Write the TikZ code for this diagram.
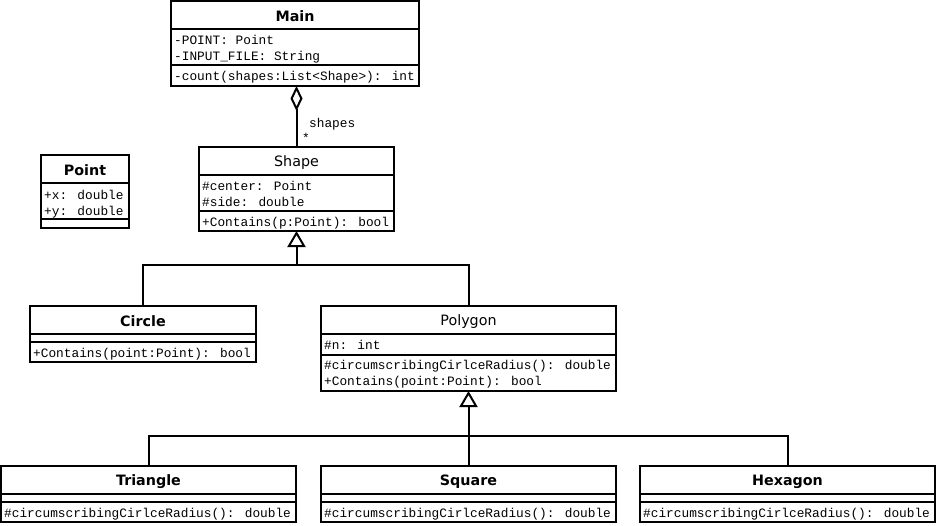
\documentclass[tikz,border=0pt]{standalone}
\usepackage{fontspec}
\usetikzlibrary{arrows.meta}
\newfontfamily\monof{Liberation Mono}
\newfontfamily\headf{DejaVu Sans}

\tikzset{
  x=1pt, y=-1pt,
  classbox/.style={draw, line width=2pt, inner sep=0pt, outer sep=0pt, fill=white},
  divline/.style={line width=2pt},
  member/.style={anchor=mid west, inner sep=0pt, yshift=-2pt, font=\monof\fontsize{12.8}{14}\selectfont},
  boldhead/.style={inner sep=0pt, yshift=-1.5pt, font=\headf\bfseries\fontsize{14.3}{16}\selectfont},
  plainhead/.style={inner sep=0pt, yshift=-1.5pt, font=\headf\fontsize{14.3}{16}\selectfont},
  conn/.style={line width=2pt},
  inherit/.style={conn, -{Triangle[open, width=18pt, length=16pt]}},
  aggregate/.style={conn, -{Diamond[open, width=12pt, length=25pt]}},
}

% class box: name, left, top, right, bottom, first divider, second divider
\newcommand{\classframe}[7]{%
  \node[classbox, anchor=north west, minimum width={#4-#2}, minimum height={#5-#3}] (#1) at (#2,#3) {};
  \draw[divline] (#2,#6) -- (#4,#6);
  \draw[divline] (#2,#7) -- (#4,#7);
}

\begin{document}
\begin{tikzpicture}
\useasboundingbox (0,0) rectangle (937,525);

% Main
\classframe{main}{171}{1}{419}{86}{29}{65}
\node[boldhead] (mainT) at (295,15) {Main};
\node[member] (mainA1) at (174,40) {-POINT: Point};
\node[member] (mainA2) at (174,56) {-INPUT\_FILE: String};
\node[member] (mainM1) at (174,76) {-count(shapes:List<Shape>): int};

% Point
\classframe{point}{41}{155}{129}{228}{183}{219}
\node[boldhead] (pointT) at (85,169) {Point};
\node[member] (pointA1) at (44,195) {+x: double};
\node[member] (pointA2) at (44,211) {+y: double};

% Shape
\classframe{shape}{199}{147}{394}{231}{175}{211}
\node[plainhead] (shapeT) at (296.5,161) {Shape};
\node[member] (shapeA1) at (202,186) {\#center: Point};
\node[member] (shapeA2) at (202,202) {\#side: double};
\node[member] (shapeM1) at (202,222) {+Contains(p:Point): bool};

% Circle
\classframe{circle}{30}{306}{256}{362}{334}{342}
\node[boldhead] (circleT) at (143,320) {Circle};
\node[member] (circleM1) at (33,353) {+Contains(point:Point): bool};

% Polygon
\classframe{polygon}{321}{306}{616}{391}{334}{355}
\node[plainhead] (polygonT) at (468.5,320) {Polygon};
\node[member] (polygonA1) at (324,345) {\#n: int};
\node[member] (polygonM1) at (324,365) {\#circumscribingCirlceRadius(): double};
\node[member] (polygonM2) at (324,381) {+Contains(point:Point): bool};

% Triangle
\classframe{triangle}{1}{466}{296}{522}{494}{502}
\node[boldhead] (triangleT) at (148.5,480) {Triangle};
\node[member] (triangleM1) at (4,513) {\#circumscribingCirlceRadius(): double};

% Square
\classframe{square}{321}{466}{616}{522}{494}{502}
\node[boldhead] (squareT) at (468.5,480) {Square};
\node[member] (squareM1) at (324,513) {\#circumscribingCirlceRadius(): double};

% Hexagon
\classframe{hexagon}{640}{466}{935}{522}{494}{502}
\node[boldhead] (hexagonT) at (787.5,480) {Hexagon};
\node[member] (hexagonM1) at (643,513) {\#circumscribingCirlceRadius(): double};

% aggregation Main <>-- Shape
\coordinate (aggEnd) at (shape.north |- main.south);
\draw[aggregate] (shape.north) -- (aggEnd);
\node[member] (aggRole) at (309,123) {shapes};
\node[member] (aggMult) at (302,138) {*};

% generalization to Shape
\coordinate (j1) at (296.5,265);
\draw[conn] (circle.north) |- (j1);
\draw[conn] (polygon.north) |- (j1);
\draw[inherit] (j1) -- (shape.south);

% generalization to Polygon
\coordinate (j2) at (468.5,436);
\draw[conn] (triangle.north) |- (j2);
\draw[conn] (hexagon.north) |- (j2);
\draw[conn] (square.north) -- (j2);
\draw[inherit] (j2) -- (polygon.south);
\end{tikzpicture}
\end{document}
